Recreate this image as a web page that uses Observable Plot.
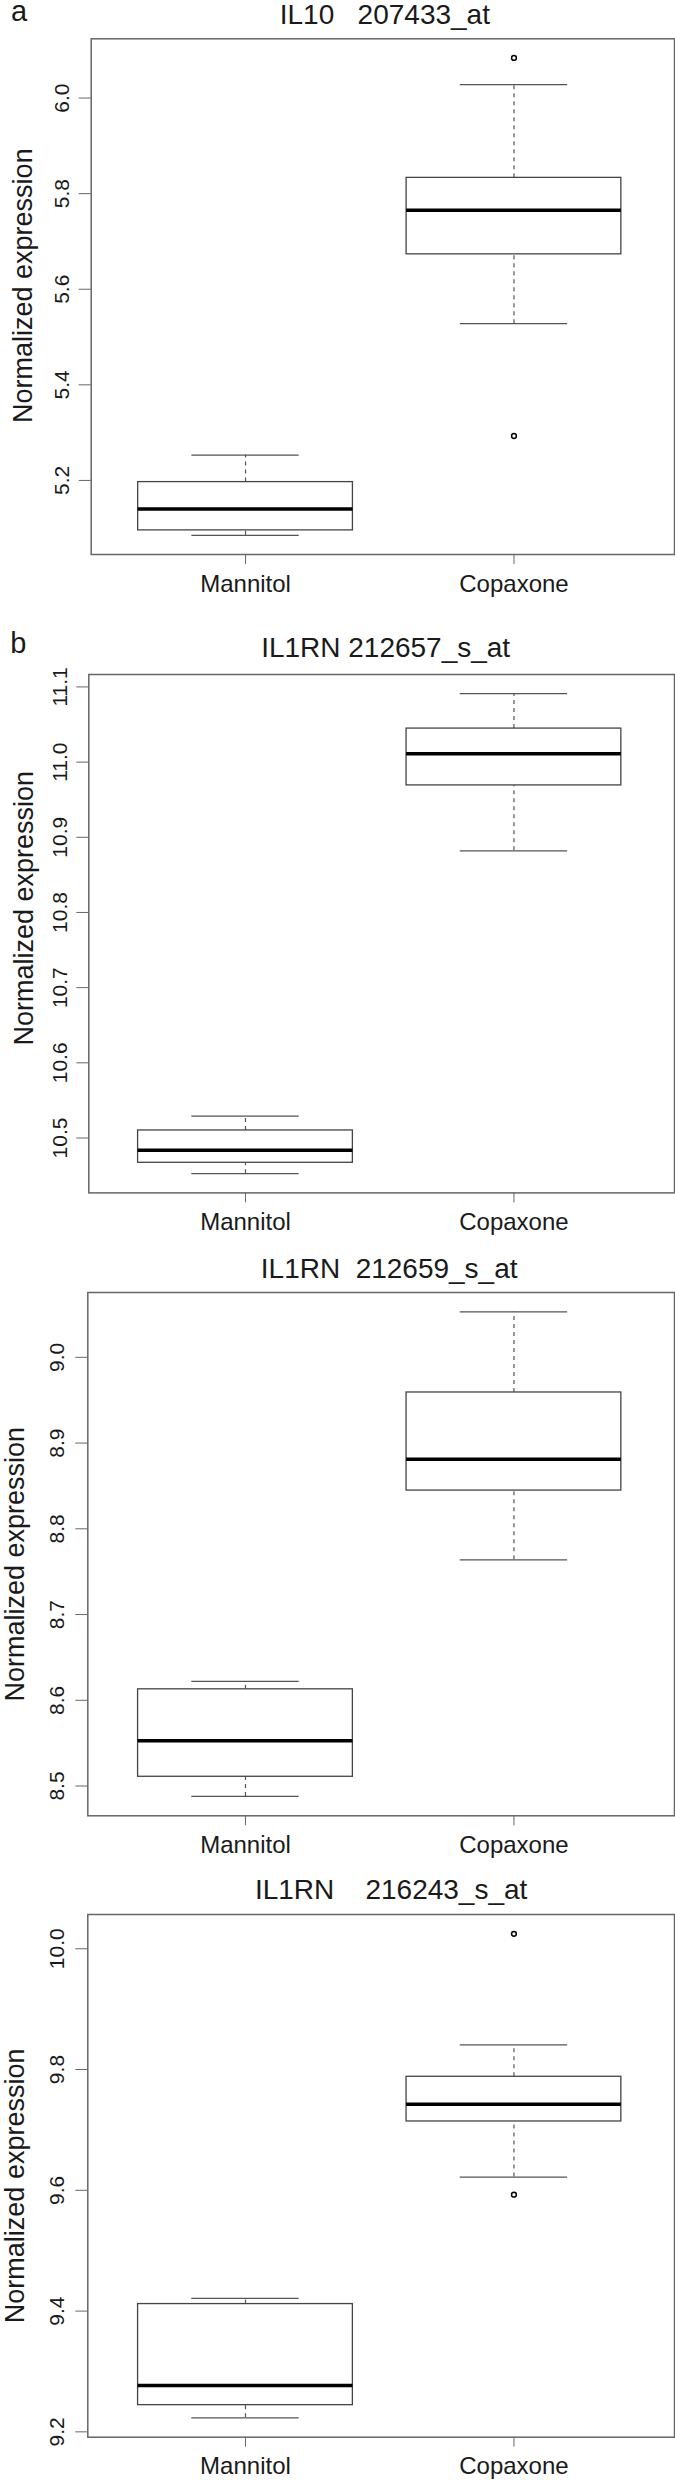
<!DOCTYPE html>
<html>
<head>
<meta charset="utf-8">
<script src="https://cdn.jsdelivr.net/npm/d3@7"></script>
<script src="https://cdn.jsdelivr.net/npm/@observablehq/plot@0.6"></script>
<style>
html, body { margin: 0; padding: 0; background: #fff; overflow: hidden; }
#wrap { position: relative; width: 675px; height: 2481px; background: #fff; }
.panel { position: absolute; left: 0; }
</style>
</head>
<body>
<div id="wrap"></div>
<script>
// ---- data ----
const groups = ["Mannitol", "Copaxone"];
const titles = ["IL10   207433_at", "IL1RN 212657_s_at", "IL1RN  212659_s_at", "IL1RN    216243_s_at"];
const panelTags = ["a", "b", "", ""];
const yLabel = "Normalized expression";
// each entry: [Mannitol, Copaxone]
const whiskerLow  = [[5.085, 5.528], [10.4525, 10.882], [8.4879, 8.7638], [9.2232, 9.622]];
const quartile1   = [[5.0955, 5.673], [10.467, 10.969], [8.5108, 8.8446], [9.2442, 9.714]];
const medians     = [[5.140, 5.765], [10.4836, 11.011], [8.5528, 8.881], [9.2769, 9.7427]];
const quartile3   = [[5.1965, 5.833], [10.510, 11.0446], [8.6128, 8.959], [9.4116, 9.788]];
const whiskerHigh = [[5.253, 6.028], [10.529, 11.091], [8.6221, 9.053], [9.421, 9.8407]];
const outlierVals = [[[], [6.084, 5.293]], [[], []], [[], []], [[], [10.0247, 9.5927]]];
const yTicks = [
  [5.2, 5.4, 5.6, 5.8, 6.0],
  [10.5, 10.6, 10.7, 10.8, 10.9, 11.0, 11.1],
  [8.5, 8.6, 8.7, 8.8, 8.9, 9.0],
  [9.2, 9.4, 9.6, 9.8, 10.0]
];

// ---- layout (pixels on the page) ----
const layout = [
  {frameTop: 38.3,   frameBottom: 554,    left: 90.7, xLeft: 0.425,  mt: 38.3, mb: 46,   titleUp: 15,   titleDx: 2,  ylabX: 32,   ylabDy: -11,  tickPad: 10.4, tagX: 10.5, tagUp: 17.6},
  {frameTop: 674.3,  frameBottom: 1192.7, left: 88.3, xLeft: 0.4164, mt: 48,   mb: 46,   titleUp: 17.3, titleDx: 4,  ylabX: 32,   ylabDy: -25.5, tickPad: 9.6, tagX: 9.8,  tagUp: 21},
  {frameTop: 1291.7, frameBottom: 1815,   left: 87.3, xLeft: 0.4127, mt: 48,   mb: 46,   titleUp: 14.1, titleDx: 8,  ylabX: 23.5, ylabDy: 10,   tickPad: 12,   tagX: 10,   tagUp: 20},
  {frameTop: 1914,   frameBottom: 2436.7, left: 87.3, xLeft: 0.4127, mt: 48,   mb: 44.3, titleUp: 15.7, titleDx: 10, ylabX: 23.5, ylabDy: 10,   tickPad: 12,   tagX: 10,   tagUp: 20}
];
const xRight = 2.598;
const FONT = "'Liberation Sans', Arial, Helvetica, sans-serif";
const TEXT = "#1a1a1a";
const LINE = "#555";

const wrap = document.getElementById("wrap");

function makePanel(i) {
  const L = layout[i];
  const rows = groups.map((g, j) => ({
    g, x: j + 1,
    lw: whiskerLow[i][j], q1: quartile1[i][j], med: medians[i][j], q3: quartile3[i][j], uw: whiskerHigh[i][j]
  }));
  const outs = groups.flatMap((g, j) => outlierVals[i][j].map(v => ({x: j + 1, y: v})));
  const all = rows.flatMap(r => [r.lw, r.uw]).concat(outs.map(o => o.y));
  const lo = d3.min(all), hi = d3.max(all), pad = 0.04 * (hi - lo);
  const height = L.mt + (L.frameBottom - L.frameTop) + L.mb;

  const marks = [
    Plot.ruleX(rows, {x: "x", y1: "q3", y2: "uw", stroke: LINE, strokeWidth: 1.2, strokeDasharray: "4,4"}),
    Plot.ruleX(rows, {x: "x", y1: "lw", y2: "q1", stroke: LINE, strokeWidth: 1.2, strokeDasharray: "4,4"}),
    Plot.ruleY(rows, {y: "uw", x1: d => d.x - 0.2, x2: d => d.x + 0.2, stroke: LINE, strokeWidth: 1.3}),
    Plot.ruleY(rows, {y: "lw", x1: d => d.x - 0.2, x2: d => d.x + 0.2, stroke: LINE, strokeWidth: 1.3}),
    Plot.rect(rows, {x1: d => d.x - 0.4, x2: d => d.x + 0.4, y1: "q1", y2: "q3", fill: "white", stroke: "#444", strokeWidth: 1.3}),
    Plot.ruleY(rows, {y: "med", x1: d => d.x - 0.4, x2: d => d.x + 0.4, stroke: "#000", strokeWidth: 3.5}),
    Plot.dot(outs, {x: "x", y: "y", r: 2.4, stroke: "#000", strokeWidth: 1.5, fill: "none"}),
    Plot.frame({stroke: "#666", strokeWidth: 1.5}),
    Plot.axisX({ticks: [1, 2], tickFormat: t => groups[t - 1], tickSize: 10, tickPadding: 10,
      fontSize: 24, stroke: "#666", fill: TEXT, label: null}),
    Plot.axisY({ticks: yTicks[i], tickFormat: d3.format(".1f"), tickSize: 12, tickPadding: L.tickPad,
      tickRotate: -90, fontSize: 21, stroke: "#666", fill: TEXT, label: null}),
    Plot.text([titles[i]], {frameAnchor: "top", text: d => d, dy: -L.titleUp, dx: L.titleDx,
      lineAnchor: "bottom", fontSize: 28, fill: TEXT}),
    Plot.text([yLabel], {frameAnchor: "left", text: d => d, rotate: -90, dx: L.ylabX - L.left, dy: L.ylabDy,
      lineAnchor: "bottom", textAnchor: "middle", fontSize: 27, fill: TEXT})
  ];
  if (panelTags[i]) {
    marks.push(Plot.text([panelTags[i]], {frameAnchor: "top-left", text: d => d, dx: L.tagX - L.left, dy: -L.tagUp,
      textAnchor: "start", lineAnchor: "bottom", fontSize: 29, fill: TEXT}));
  }

  const svg = Plot.plot({
    width: 675,
    height,
    marginTop: L.mt,
    marginBottom: L.mb,
    marginLeft: L.left,
    marginRight: 1,
    style: {background: "transparent", overflow: "visible", fontFamily: FONT},
    x: {type: "linear", domain: [L.xLeft, xRight], axis: null},
    y: {type: "linear", domain: [lo - pad, hi + pad], axis: null},
    marks
  });
  const div = document.createElement("div");
  div.className = "panel";
  div.style.top = (L.frameTop - L.mt) + "px";
  div.appendChild(svg);
  wrap.appendChild(div);
}

for (let i = 0; i < 4; i++) makePanel(i);
</script>
</body>
</html>
